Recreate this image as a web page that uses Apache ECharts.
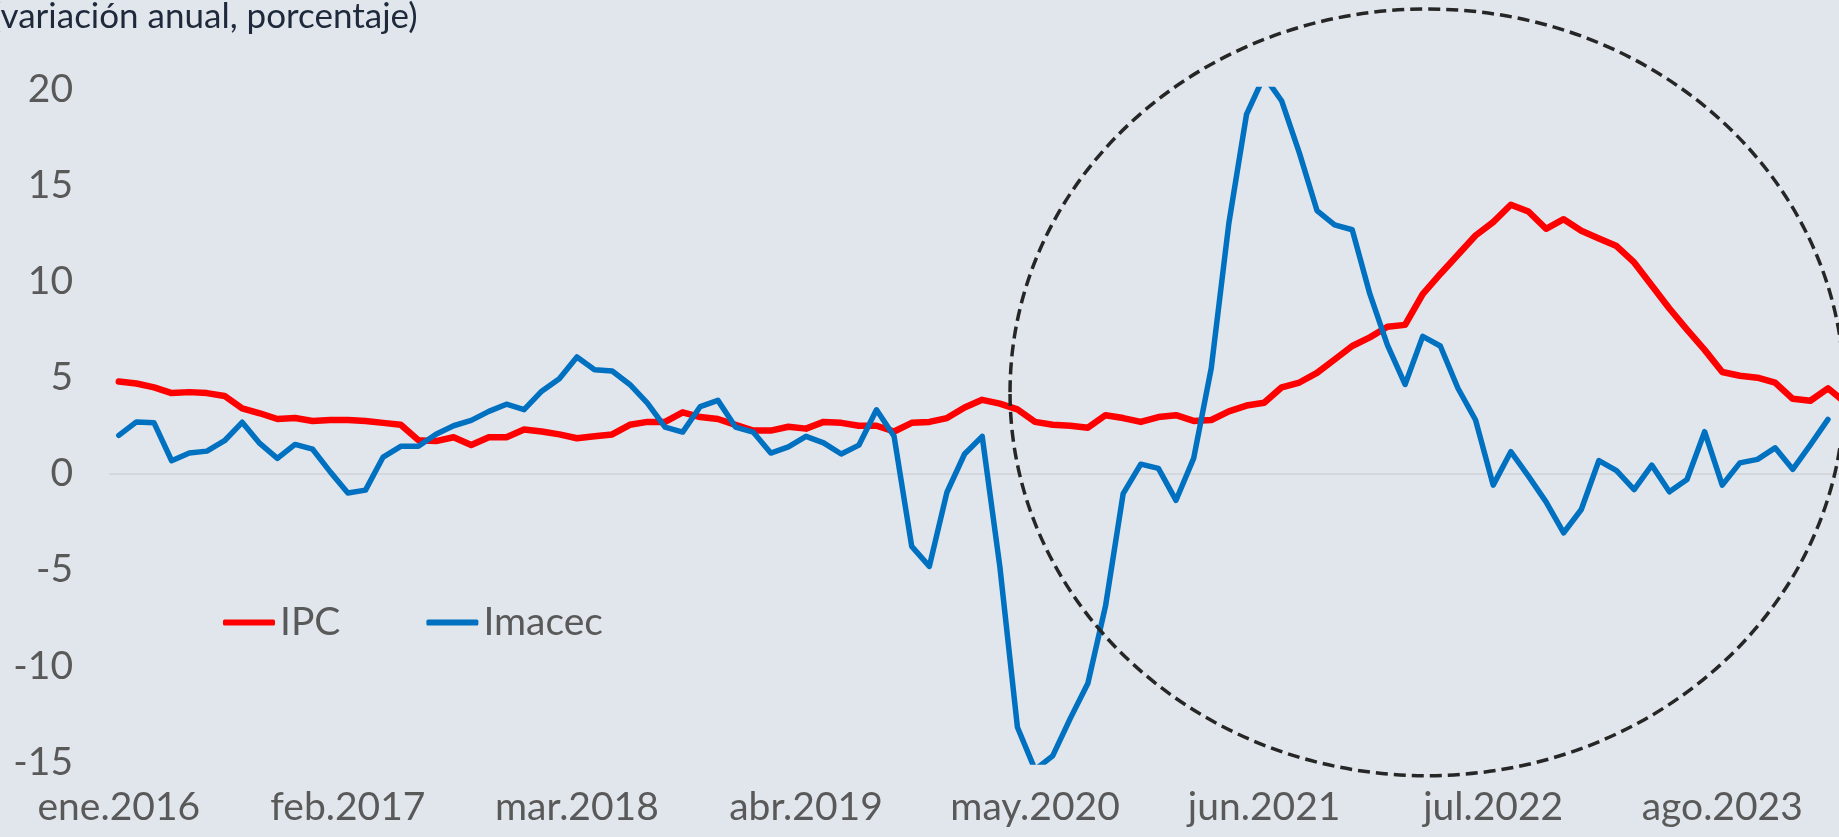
<!DOCTYPE html>
<html lang="es">
<head>
    <meta charset="UTF-8">
    <title>IPC e Imacec</title>
    <script src="https://cdn.jsdelivr.net/npm/echarts@6/dist/echarts.min.js"></script>
    <style>
        body { margin: 0; overflow: hidden; background: #E1E6ED; }
    </style>
</head>
<body>
<div id="chart" style="width:1856px;height:837px;"></div>
<script>
    // meses desde ene.2016
    var monthNames = ['ene', 'feb', 'mar', 'abr', 'may', 'jun', 'jul', 'ago', 'sep', 'oct', 'nov', 'dic'];
    var firstYear = 2016;
    var nMonths = 99;

    var ipc = [
        4.8, 4.7, 4.5, 4.2, 4.25, 4.2, 4.05, 3.4, 3.15, 2.85, 2.9, 2.75,
        2.8, 2.8, 2.75, 2.65, 2.55, 1.75, 1.7, 1.9, 1.5, 1.9, 1.9, 2.3,
        2.2, 2.05, 1.85, 1.95, 2.05, 2.55, 2.7, 2.7, 3.2, 2.95, 2.85, 2.55,
        2.25, 2.25, 2.45, 2.35, 2.7, 2.65, 2.5, 2.5, 2.2, 2.65, 2.7, 2.9,
        3.45, 3.85, 3.65, 3.35, 2.7, 2.55, 2.5, 2.4, 3.05, 2.9, 2.7, 2.95,
        3.05, 2.75, 2.8, 3.25, 3.55, 3.7, 4.5, 4.75, 5.25, 5.95, 6.65, 7.1,
        7.65, 7.75, 9.35, 10.4, 11.4, 12.4, 13.1, 14.0, 13.65, 12.75, 13.25, 12.65,
        12.25, 11.85, 11.0, 9.8, 8.6, 7.5, 6.45, 5.3, 5.1, 5.0, 4.75, 3.9,
        3.8, 4.45, 3.7
    ];
    var imacec = [
        2.0, 2.7, 2.65, 0.68, 1.08, 1.18, 1.72, 2.68, 1.58, 0.8, 1.53, 1.28,
        0.1, -1.0, -0.85, 0.87, 1.43, 1.43, 2.06, 2.5, 2.78, 3.25, 3.62, 3.34,
        4.3, 4.95, 6.08, 5.42, 5.35, 4.65, 3.68, 2.43, 2.17, 3.5, 3.82, 2.43,
        2.17, 1.08, 1.4, 1.95, 1.61, 1.03, 1.49, 3.33, 1.95, -3.78, -4.82, -0.96,
        1.03, 1.95, -4.82, -13.19, -15.4, -14.68, -12.73, -10.9, -6.88, -1.03, 0.5, 0.28,
        -1.38, 0.8, 5.5, 13.05, 18.7, 20.7, 19.4, 16.7, 13.7, 12.95, 12.7, 9.36,
        6.7, 4.65, 7.15, 6.65, 4.45, 2.8, -0.59, 1.15, -0.12, -1.46, -3.07, -1.86,
        0.69, 0.17, -0.82, 0.45, -0.94, -0.3, 2.19, -0.59, 0.57, 0.75, 1.35, 0.23,
        1.5, 2.83
    ];

    var categories = [];
    for (var i = 0; i < nMonths; i++) {
        categories.push(monthNames[i % 12] + '.' + (firstYear + Math.floor(i / 12)));
    }

    var font = 'Lato';
    var grey = '#595959';

    var chart = echarts.init(document.getElementById('chart'));
    var option = {
        backgroundColor: '#E1E6ED',
        animation: false,
        textStyle: {fontFamily: font},
        title: {
            text: '(variación anual, porcentaje)',
            left: -13,
            top: -6,
            textStyle: {fontSize: 35, fontWeight: 'normal', color: '#1E293B', fontFamily: font}
        },
        legend: {
            data: ['IPC', 'Imacec'],
            left: 218,
            top: 598,
            icon: 'roundRect',
            itemWidth: 52,
            itemHeight: 6,
            itemGap: 86,
            textStyle: {fontSize: 39, color: grey, fontFamily: font}
        },
        grid: {left: 110, right: 1.6, top: 89.5, bottom: 75},
        xAxis: [
            {
                type: 'category',
                data: categories,
                boundaryGap: true,
                position: 'bottom',
                axisLine: {onZero: true, lineStyle: {color: '#D4D7DC', width: 2}},
                axisTick: {interval: 12, length: 12, lineStyle: {color: '#D4D7DC', width: 2}},
                axisLabel: {show: false}
            },
            {
                type: 'category',
                data: categories,
                boundaryGap: true,
                position: 'bottom',
                axisLine: {show: false, onZero: false},
                axisTick: {show: false},
                axisLabel: {interval: 12, fontSize: 39, color: grey, margin: 26, fontFamily: font}
            }
        ],
        yAxis: {
            type: 'value',
            min: -15,
            max: 20,
            interval: 5,
            axisLine: {show: false},
            axisTick: {show: false},
            splitLine: {show: false},
            axisLabel: {fontSize: 39, color: grey, margin: 37, fontFamily: font}
        },
        series: [
            {
                name: 'IPC',
                type: 'line',
                data: ipc,
                symbol: 'none',
                lineStyle: {color: '#FF0000', width: 6.5, cap: 'round', join: 'round'},
                itemStyle: {color: '#FF0000'}
            },
            {
                name: 'Imacec',
                type: 'line',
                data: imacec,
                symbol: 'none',
                lineStyle: {color: '#0070C0', width: 5.5, cap: 'round', join: 'round'},
                itemStyle: {color: '#0070C0'}
            }
        ]
    };
    chart.setOption(option);

    // elipse punteada sobre el periodo 2020-2024, ubicada con las escalas del grafico
    var p0 = chart.convertToPixel({xAxisIndex: 0, yAxisIndex: 0}, [0, 0]);
    var p1 = chart.convertToPixel({xAxisIndex: 0, yAxisIndex: 0}, [1, 1]);
    var band = p1[0] - p0[0];
    var unit = p0[1] - p1[1];
    chart.setOption({
        graphic: [{
            type: 'ellipse',
            z: 100,
            silent: true,
            shape: {
                cx: p0[0] + band * 74.25,
                cy: p0[1] - unit * 4.24,
                rx: band * 23.67,
                ry: unit * 19.95
            },
            style: {fill: 'transparent', stroke: '#262626', lineWidth: 3.5, lineDash: [12, 6]}
        }]
    });
</script>
</body>
</html>
